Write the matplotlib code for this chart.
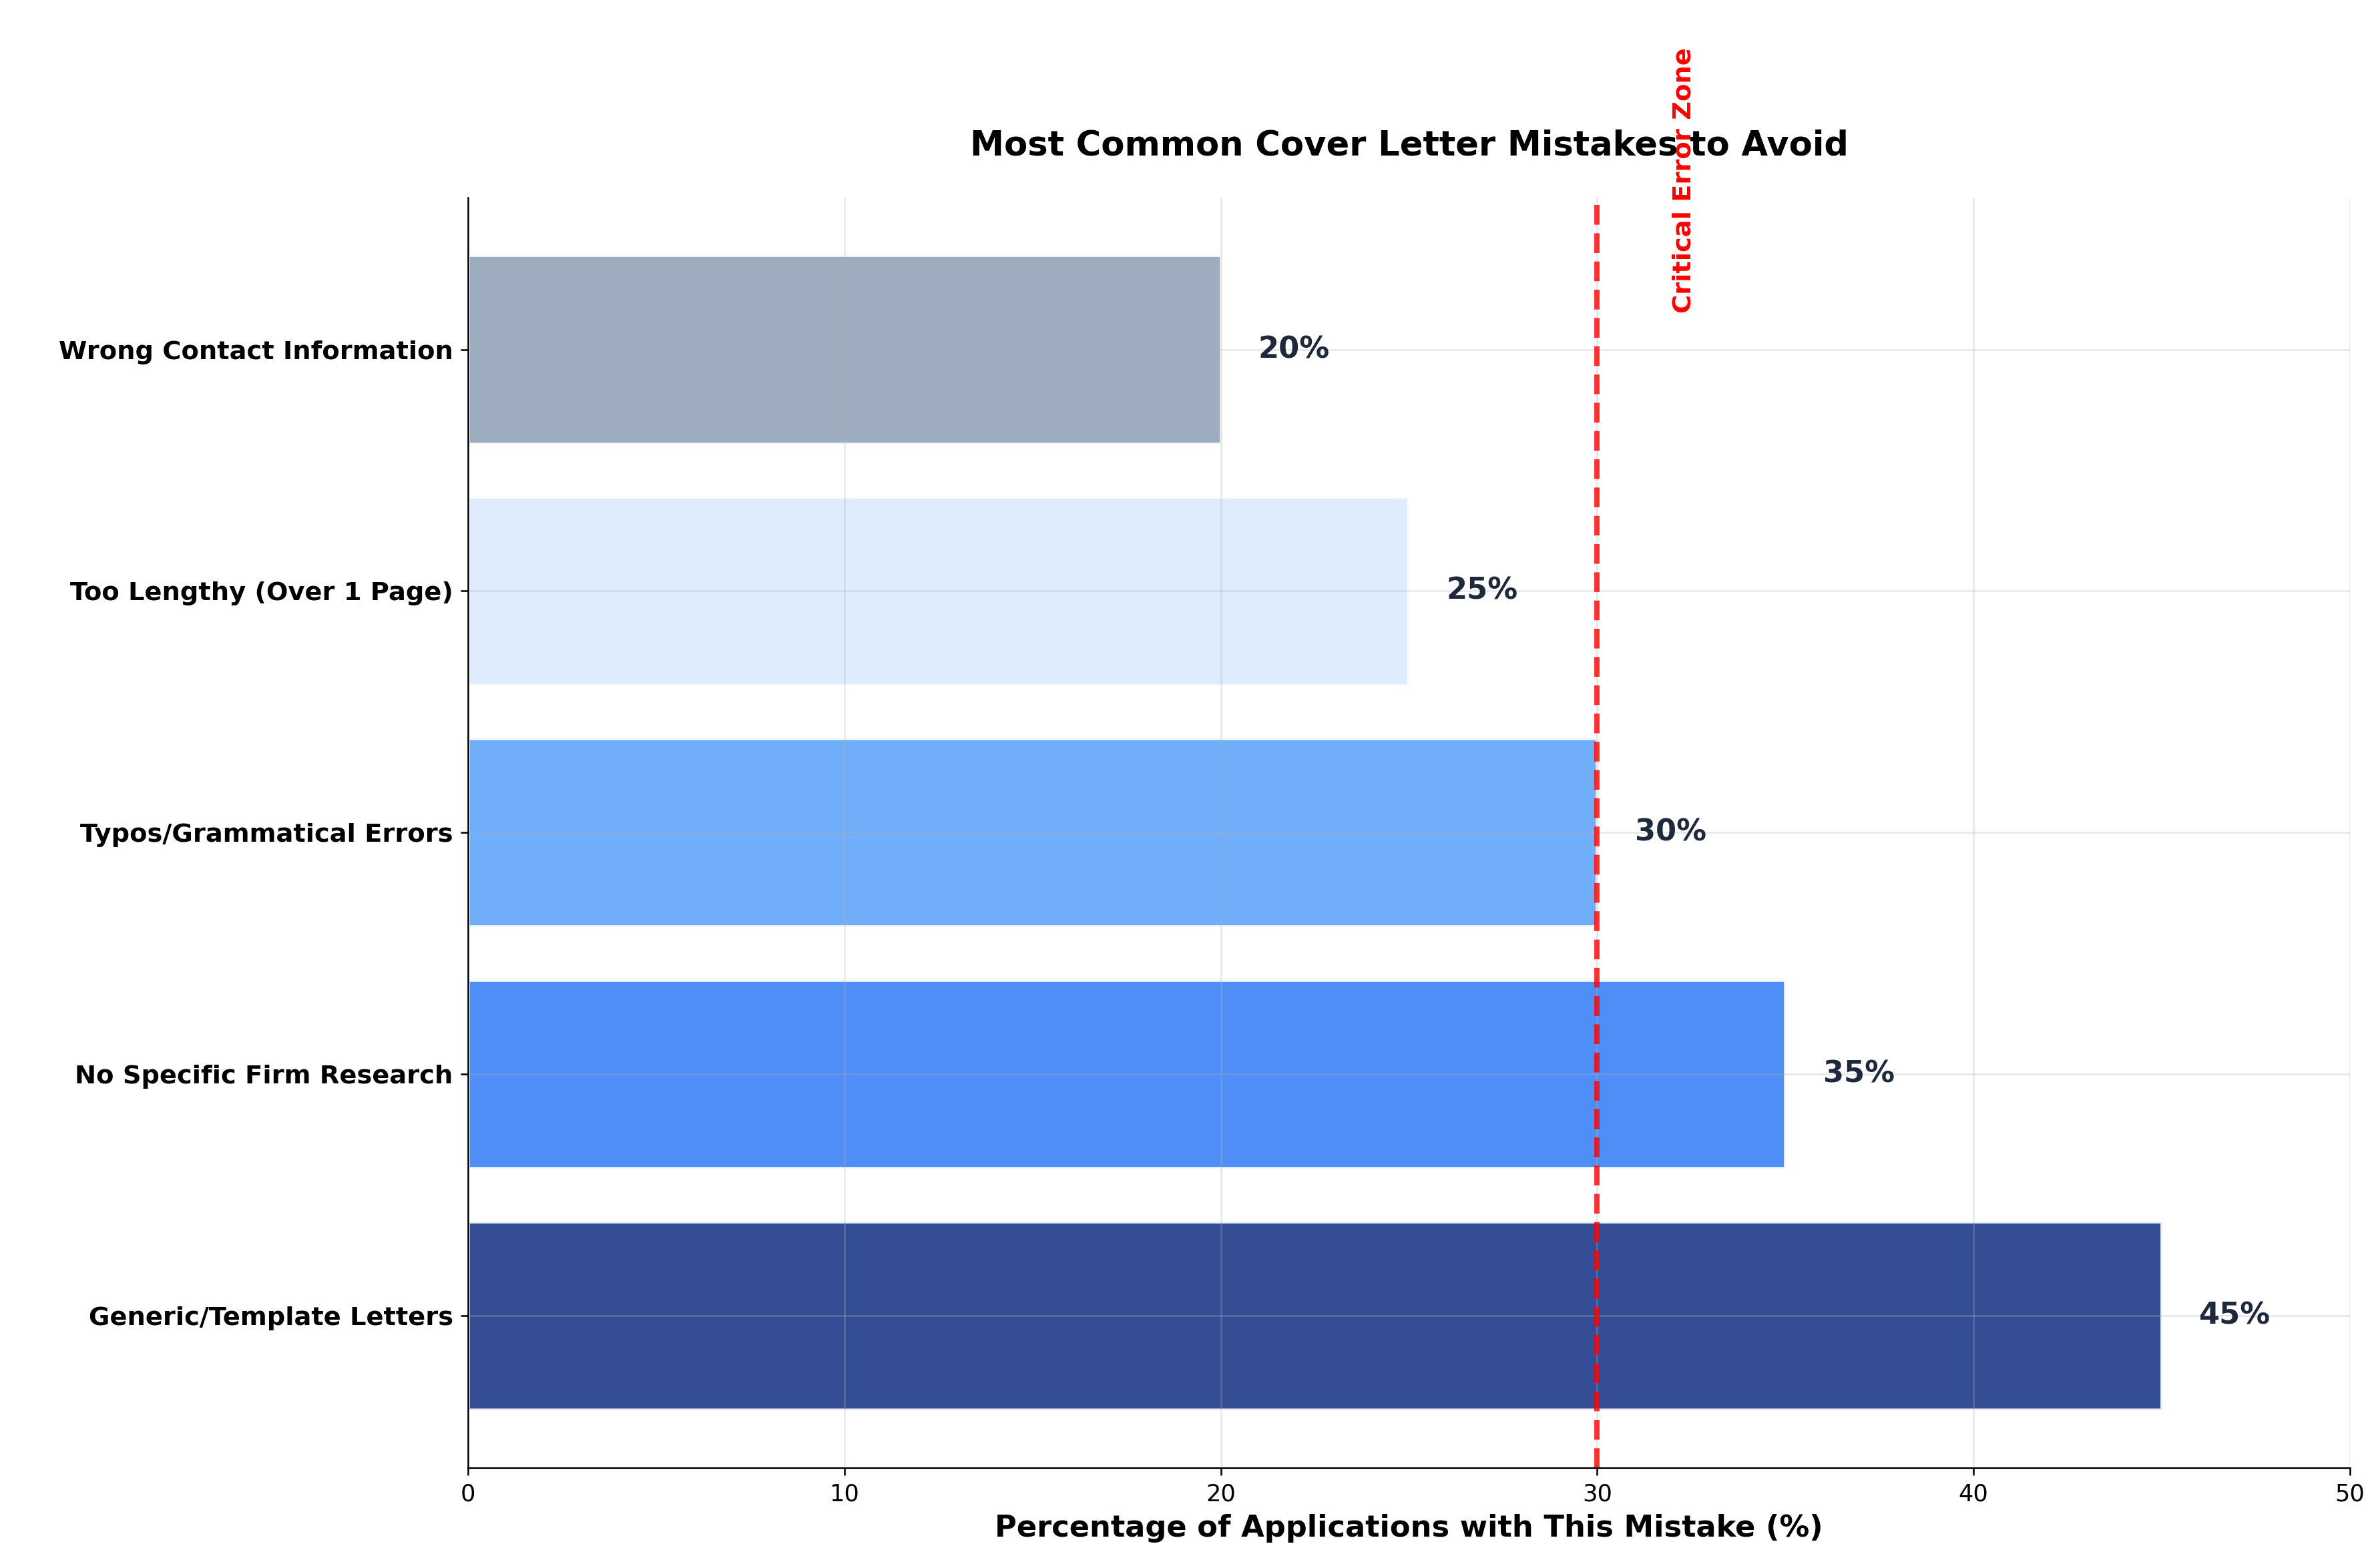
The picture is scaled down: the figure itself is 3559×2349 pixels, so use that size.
import matplotlib
matplotlib.use("Agg")
import matplotlib.pyplot as plt

categories = ["Generic/Template Letters", "No Specific Firm Research", "Typos/Grammatical Errors",
              "Too Lengthy (Over 1 Page)", "Wrong Contact Information"]
values = [45, 35, 30, 25, 20]
colors = ["#1e3a8a", "#3b82f6", "#60a5fa", "#dbeafe", "#94a3b8"]

fig = plt.figure(figsize=(3559/230, 2349/230), dpi=230)
ax = fig.add_axes([0.197, 0.064, 0.792, 0.81])
bars = ax.barh(categories, values, color=colors, alpha=0.9, edgecolor="white", linewidth=1.5, height=0.78)
for b, v in zip(bars, values):
    ax.text(v + 1, b.get_y() + b.get_height()/2, f"{v}%", va="center", ha="left",
            fontsize=14, fontweight="bold", color="#1e293b")
ax.axvline(30, color="red", linestyle="--", linewidth=2.5, alpha=0.8)
ax.text(32.3, 4.15, "Critical Error Zone", rotation=90, color="red", fontsize=12,
        fontweight="bold", ha="center", va="bottom")
ax.set_xlim(0, 50)
ax.set_xlabel("Percentage of Applications with This Mistake (%)", fontsize=14, fontweight="bold")
ax.set_title("Most Common Cover Letter Mistakes to Avoid", fontsize=16, fontweight="bold", pad=20)
for lab in ax.get_yticklabels():
    lab.set_fontweight("bold")
ax.tick_params(axis="y", labelsize=12)
ax.tick_params(axis="x", labelsize=11)
ax.grid(True, alpha=0.3)
ax.spines["top"].set_visible(False)
ax.spines["right"].set_visible(False)
fig.savefig("out.png", dpi=230)
